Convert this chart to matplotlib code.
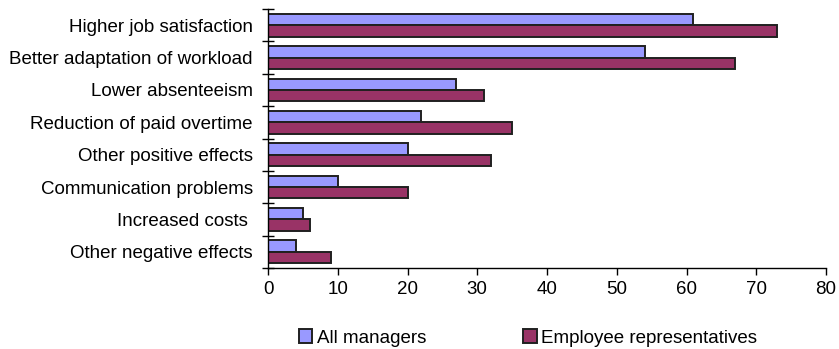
import matplotlib
matplotlib.use("Agg")
from matplotlib import pyplot as plt
from matplotlib.ticker import FixedLocator, NullFormatter
import numpy as np

categories = [
    "Higher job satisfaction",
    "Better adaptation of workload",
    "Lower absenteeism",
    "Reduction of paid overtime",
    "Other positive effects",
    "Communication problems",
    "Increased costs ",
    "Other negative effects",
]
all_managers = [61, 54, 27, 22, 20, 10, 5, 4]
employee_reps = [73, 67, 31, 35, 32, 20, 6, 9]
series_names = ["All managers", "Employee representatives"]
x_ticks = [0, 10, 20, 30, 40, 50, 60, 70, 80]

plt.rcParams["font.family"] = ["Liberation Sans", "DejaVu Sans"]
fs = 13.5

fig = plt.figure(figsize=(8.39, 3.49), dpi=100)
ax = fig.add_axes([268 / 839, 1 - 268 / 349, (826 - 268) / 839, (268 - 9) / 349])

pos = np.arange(len(categories))
h = 0.35
ax.barh(pos - h / 2, all_managers, height=h, color="#9999FF", edgecolor="#202020",
        linewidth=1.4, label=series_names[0])
ax.barh(pos + h / 2, employee_reps, height=h, color="#993366", edgecolor="#202020",
        linewidth=1.4, label=series_names[1])

ax.set_xlim(0, 80)
ax.set_ylim(len(categories) - 0.5, -0.5)
ax.set_xticks(x_ticks)
ax.tick_params(axis="x", direction="out", length=5, width=1, labelsize=fs, pad=4)

ax.yaxis.set_major_locator(FixedLocator(np.arange(-0.5, len(categories), 1)))
ax.yaxis.set_major_formatter(NullFormatter())
ax.yaxis.set_minor_locator(FixedLocator(pos))
ax.set_yticklabels(categories, minor=True)
ax.tick_params(axis="y", which="major", direction="inout", length=9, width=1)
ax.tick_params(axis="y", which="minor", length=0, labelsize=fs, pad=11)

for s in ["top", "right"]:
    ax.spines[s].set_visible(False)
for s in ["left", "bottom"]:
    ax.spines[s].set_linewidth(1.0)

fig.legend(loc="center", bbox_to_anchor=(528 / 839, 1 - 338 / 349), ncol=2,
           frameon=False, fontsize=fs, handlelength=0.7, handleheight=0.7,
           handletextpad=0.25, columnspacing=5.2)

fig.savefig("out.png", dpi=100)
